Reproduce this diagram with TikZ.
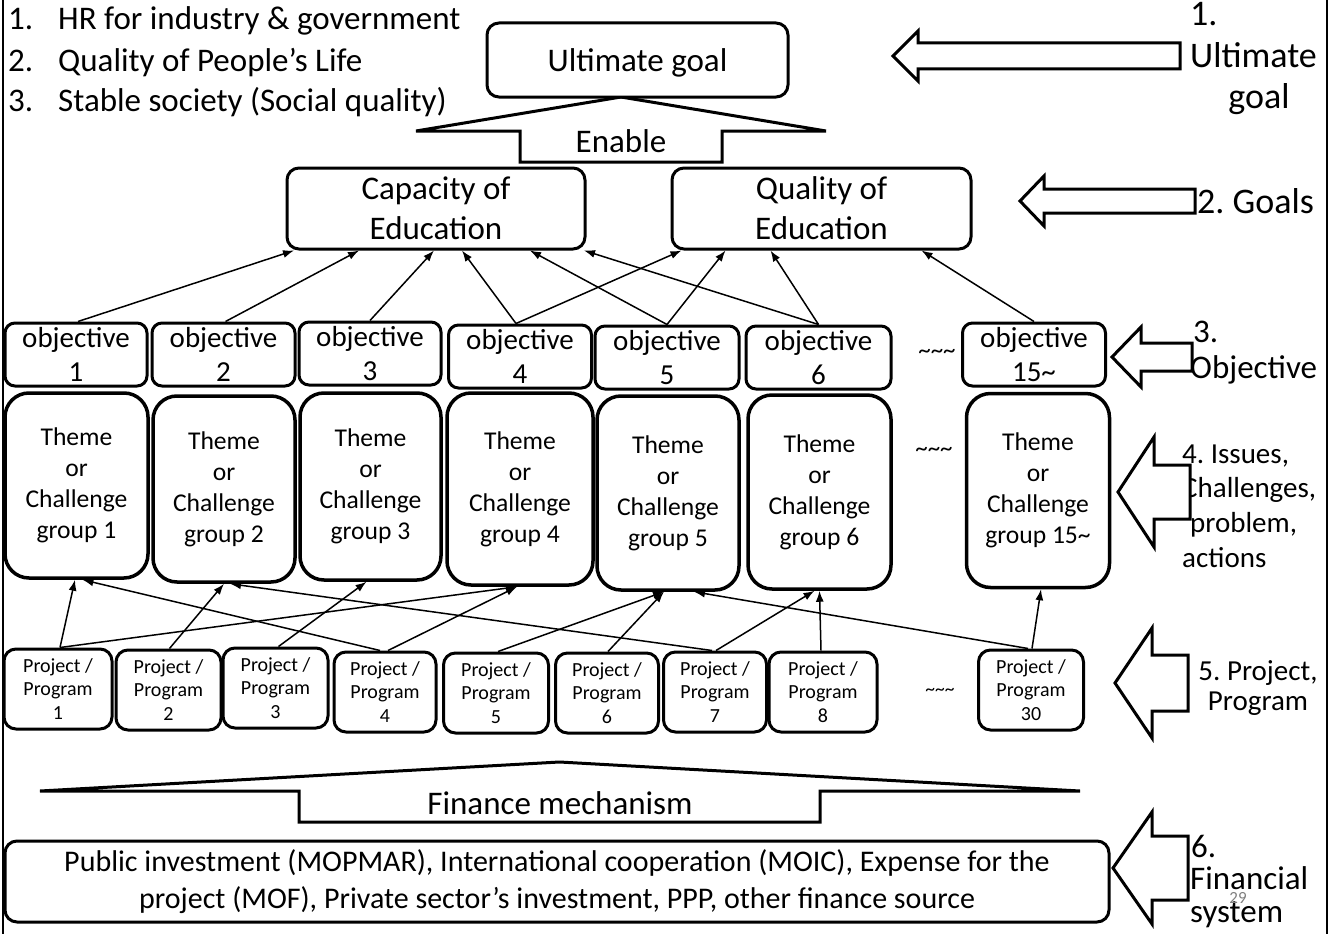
\documentclass[tikz,border=0pt]{standalone}
\usepackage{fontspec}
\setmainfont{Carlito}
\usetikzlibrary{arrows.meta}

\tikzset{
  box/.style={draw, line width=3pt, fill=white, align=center, inner sep=0pt},
  goalbox/.style={box, rounded corners=12pt, minimum height=81pt, font=\fontsize{33}{40}\selectfont},
  objbox/.style={box, rounded corners=10pt, minimum height=63pt, font=\fontsize{29}{34}\selectfont},
  themebox/.style={box, line width=3.5pt, rounded corners=24pt, font=\fontsize{25.6}{31}\selectfont},
  projbox/.style={box, rounded corners=12pt, minimum height=80pt, font=\fontsize{20}{23.5}\selectfont},
  link/.style={line width=1.5pt, -{Latex[length=11pt,width=8pt]}},
  blockarrow/.style={draw, line width=3pt, fill=white, line join=miter},
  txt/.style={inner sep=0pt, font=\fontsize{33}{38}\selectfont},
  sidelabel/.style={inner sep=0pt, anchor=base west, font=\fontsize{#1}{#1}\selectfont},
  sidelabel/.default=35,
  dots/.style={inner sep=0pt, font=\fontsize{25}{30}\selectfont},
}

\begin{document}
\frenchspacing
\begin{tikzpicture}[x=1pt, y=-1pt]
    \useasboundingbox (0,0) rectangle (1336,934);

    % slide frame
    \draw[line width=2pt] (3,0) -- (3,934);
    \draw[line width=2pt] (1327,0) -- (1327,934);

    % aims at the top left
    \foreach \i/\yb/\aim in {1/30/HR for industry \& government, 2/71/Quality of People’s Life, 3/111/Stable society (Social quality)} {
        \node[txt, anchor=base west] (num\i) at (8,\yb) {\i.};
        \node[txt, anchor=base west] (aim\i) at (58,\yb) {\aim};
    }

    % Enable arrow and ultimate goal
    \draw[line width=3pt, line join=miter] (621,97) -- (416,131) -- (520,131) -- (520,162) -- (722,162) -- (722,131) -- (826,131) -- cycle;
    \node[txt] (enable) at (621,141) {Enable};
    \node[goalbox, minimum width=301pt, minimum height=74pt, text height=29pt, text depth=7pt] (ult) at (637.5,60) {Ultimate goal};

    % Goals
    \node[goalbox, minimum width=298pt] (cap) at (436,208.5) {Capacity of\\Education};
    \node[goalbox, minimum width=299pt] (qual) at (821.5,208.5) {Quality of\\Education};

    % Objectives
    \foreach \n/\lab/\x/\y/\w in {1/1/76/354.5/142, 2/2/223.5/354.5/143, 3/3/370/353.5/142, 4/4/520/356.5/143, 5/5/667/357.5/144, 6/6/818.5/357.5/145, 15/{15\textasciitilde}/1034/354.5/143} {
        \node[objbox, minimum width=\w pt] (o\n) at (\x,\y) {objective\\\lab};
    }
    \node[dots] (odots) at (937,354) {\textasciitilde\textasciitilde\textasciitilde};

    % Theme or challenge groups
    \foreach \n/\lab/\x/\y/\w/\h in {1/1/76.5/485.5/143/185, 2/2/224/489/142/186, 3/3/370.5/486.5/141/187, 4/4/520/489/146/192, 5/5/668/493/142/194, 6/6/819.5/492/143/194, 15/{15\textasciitilde}/1038/490.5/143/194} {
        \node[themebox, minimum width=\w pt, minimum height=\h pt] (t\n) at (\x,\y) {Theme\\or\\Challenge\\group \lab};
    }
    \node[dots] (tdots) at (934,452) {\textasciitilde\textasciitilde\textasciitilde};

    % Projects / programs
    \foreach \n/\x/\y/\w in {1/58/689/108, 2/168.5/690/105, 3/275.5/688/105, 4/385/692/102, 5/496/693/105, 6/607/693/103, 7/715/692/103, 8/823/692/108, 30/1031/690/105} {
        \node[projbox, minimum width=\w pt] (p\n) at (\x,\y) {Project /\\Program\\\n};
    }
    \node[dots, font=\fontsize{19.5}{24}\selectfont] (pdots) at (940,692) {\textasciitilde\textasciitilde\textasciitilde};

    % objective -> goal
    \foreach \a/\b/\s/\e in {1/cap/2/-142, 2/cap/2/-77, 3/cap/0/-2, 4/cap/-4/26, 4/qual/-4/-140, 5/cap/0/94, 5/qual/0/-96, 6/cap/0/148, 6/qual/0/-51, 15/qual/0/100} {
        \draw[link] ([xshift=\s pt]o\a.north) -- ([xshift=\e pt]\b.south);
    }

    % project -> theme
    \foreach \a/\b/\s/\e in {1/1/2/-1.5, 1/4/2/-3, 2/2/1/0, 3/3/3/-4, 4/1/-5/6, 4/4/3/-3, 5/5/2/-4, 6/5/1/-4, 7/2/-3/6, 7/6/1/-5, 8/6/-2/0, 30/5/-3/26, 30/15/1/3} {
        \draw[link] ([xshift=\s pt]p\a.north) -- ([xshift=\e pt]t\b.south);
    }

    % Finance mechanism and sources
    \draw[line width=3pt, line join=miter] (559.5,762) -- (40,791) -- (299,791) -- (299,822) -- (820,822) -- (820,791) -- (1080,791) -- cycle;
    \node[txt] (finmech) at (560,803) {Finance mechanism};
    \node[goalbox, minimum width=1104pt, minimum height=81pt, font=\fontsize{30}{37}\selectfont] (fin) at (557,881.5) {Public investment (MOPMAR), International cooperation (MOIC), Expense for the\\project (MOF), Private sector’s investment, PPP, other finance source};

    % level labels on the right
    \node[sidelabel=36] (l1a) at (1190,26) {1.};
    \node[sidelabel=36] (l1b) at (1190,68) {Ultimate};
    \node[sidelabel=36, anchor=base] (l1c) at (1259,108) {goal};
    \node[sidelabel=36] (l2) at (1197,213) {2. Goals};
    \node[sidelabel=33] (l3a) at (1193,342) {3.};
    \node[sidelabel=33] (l3b) at (1190,378) {Objective};
    \node[sidelabel=29] (l4a) at (1182,463) {4. Issues,};
    \node[sidelabel=29] (l4b) at (1182,497) {Challenges,};
    \node[sidelabel=29] (l4c) at (1190,532) {problem,};
    \node[sidelabel=29] (l4d) at (1182,567) {actions};
    \node[sidelabel=29, anchor=base] (l5a) at (1258,680) {5. Project,};
    \node[sidelabel=29, anchor=base] (l5b) at (1258,710) {Program};
    \node[sidelabel=33] (l6a) at (1191,857) {6.};
    \node[sidelabel=33] (l6b) at (1190,889) {Financial};
    \node[sidelabel=33] (l6c) at (1190,922) {system};
    \node[inner sep=0pt, text=gray, font=\fontsize{17}{19}\selectfont] (page) at (1238,898) {29};

    % block arrows pointing left
    \foreach \tx/\ty/\bx/\hh/\bh/\ex in {893/56/918/25/13/1180, 1020/201/1044/25/12/1195, 1112/357/1141/30/14/1192, 1118/492/1154/55/27/1190, 1115/683/1152/55/28/1188, 1113/868/1152/56/32/1188} {
        \draw[blockarrow] (\tx,\ty) -- (\bx,\ty-\hh) -- (\bx,\ty-\bh) -- (\ex,\ty-\bh) -- (\ex,\ty+\bh) -- (\bx,\ty+\bh) -- (\bx,\ty+\hh) -- cycle;
    }
\end{tikzpicture}
\end{document}
